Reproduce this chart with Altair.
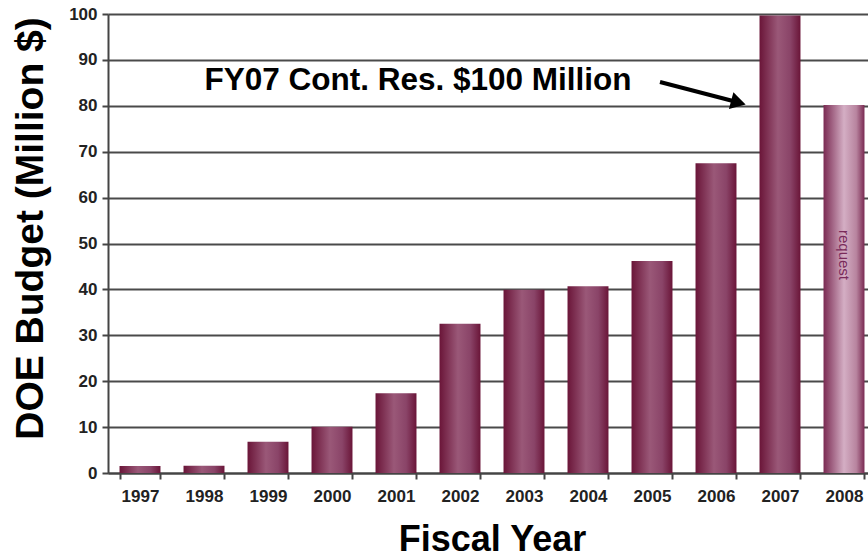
import altair as alt
import pandas as pd

years = ["1997", "1998", "1999", "2000", "2001", "2002", "2003", "2004",
         "2005", "2006", "2007", "2008"]
budget = [1.5, 1.6, 6.8, 10.1, 17.4, 32.5, 39.9, 40.7, 46.2, 67.5, 99.7, 80.2]
kind = ["actual"] * 11 + ["request"]

df = pd.DataFrame({"year": years, "budget": budget, "kind": kind})

FONT = "Liberation Sans"

x_enc = alt.X("year:N", sort=years,
              scale=alt.Scale(range=[0, 768], paddingInner=0.36, paddingOuter=0.18),
              axis=alt.Axis(title="Fiscal Year", labelAngle=0, labelFont=FONT,
                            labelFontWeight="bold", labelFontSize=17, labelColor="#222",
                            labelPadding=9, titleFont=FONT, titleFontSize=36,
                            titleFontWeight="bold", titleColor="#000", titlePadding=18,
                            domainColor="#444", domainWidth=2, tickColor="#444",
                            tickWidth=2, tickSize=6, tickBand="extent", grid=False))
y_enc = alt.Y("budget:Q",
              scale=alt.Scale(domain=[0, 100], nice=False),
              axis=alt.Axis(title="DOE Budget (Million $)", values=list(range(0, 101, 10)),
                            labelFont=FONT, labelFontWeight="bold", labelFontSize=17,
                            labelColor="#222", labelPadding=5, titleFont=FONT,
                            titleFontSize=39, titleFontWeight="bold", titleColor="#000",
                            titlePadding=18, titleY=214, domainColor="#444", domainWidth=2,
                            tickColor="#444", tickWidth=2, tickSize=6,
                            gridColor="#4a4a4a", gridWidth=2))

grad_actual = alt.Gradient(gradient="linear", x1=0, x2=1, y1=0, y2=0, stops=[
    alt.GradientStop(color="#6a1538", offset=0),
    alt.GradientStop(color="#9a5878", offset=0.45),
    alt.GradientStop(color="#8a4468", offset=0.75),
    alt.GradientStop(color="#6a1538", offset=1)])
grad_req = alt.Gradient(gradient="linear", x1=0, x2=1, y1=0, y2=0, stops=[
    alt.GradientStop(color="#7a2a52", offset=0),
    alt.GradientStop(color="#d4aec4", offset=0.5),
    alt.GradientStop(color="#b8849f", offset=0.8),
    alt.GradientStop(color="#7a2a52", offset=1)])

base = alt.Chart(df)
bars = base.transform_filter(alt.datum.kind == "actual").mark_bar(
    color=grad_actual).encode(x=x_enc, y=y_enc)
req = base.transform_filter(alt.datum.kind == "request").mark_bar(
    color=grad_req).encode(x=x_enc, y=y_enc)
req_text = base.transform_filter(alt.datum.kind == "request").mark_text(
    angle=90, font=FONT, fontSize=15, color="#7a2a5a", baseline="middle",
    align="center").encode(x=x_enc, y=alt.value(241), text="kind:N")

ann = alt.Chart(pd.DataFrame({"t": ["FY07 Cont. Res. $100 Million"]})).mark_text(
    font=FONT, fontSize=31.5, fontWeight="bold", color="#000", align="center",
    baseline="alphabetic").encode(x=alt.value(310), y=alt.value(76), text="t:N")
arrow_line = alt.Chart(pd.DataFrame({"a": [0]})).mark_rule(
    color="#000", strokeWidth=4).encode(x=alt.value(552), y=alt.value(68),
                                        x2=alt.value(625), y2=alt.value(87))
arrow_head = alt.Chart(pd.DataFrame({"a": [0]})).mark_point(
    shape="triangle", filled=True, color="#000", size=300, angle=105,
    opacity=1).encode(x=alt.value(628), y=alt.value(88))

chart = alt.layer(bars, req, req_text, ann, arrow_line, arrow_head).properties(
    width=760, height=459,
    autosize=alt.AutoSizeParams(type="none"),
    padding={"left": 108, "top": 14, "right": 0, "bottom": 87},
).configure_view(stroke=None).configure(background="white")

chart.save("out.html", embed_options={"renderer": "svg", "actions": False})
